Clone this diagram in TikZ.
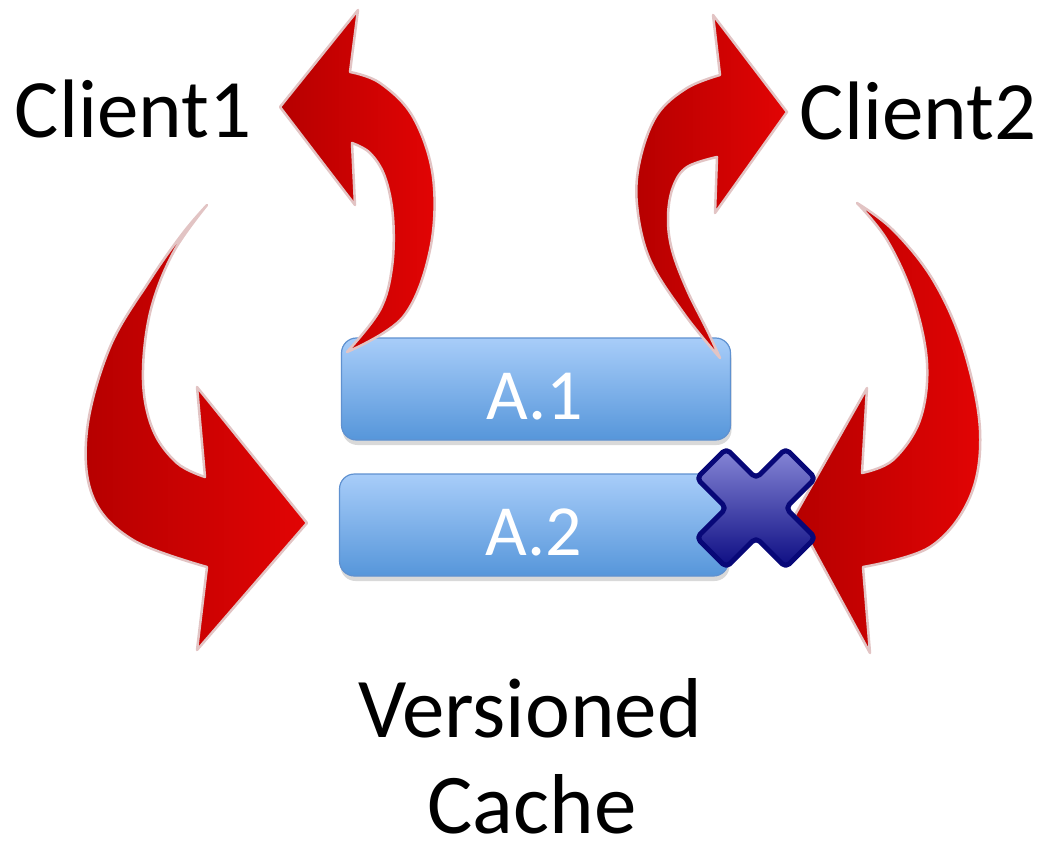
\documentclass[tikz,border=0pt]{standalone}
\usepackage{fontspec}
\setmainfont{Carlito}
\usetikzlibrary{shadows}
\definecolor{boxtop}{RGB}{168,205,249}
\definecolor{boxbot}{RGB}{86,150,218}
\definecolor{boxline}{RGB}{95,145,208}
\definecolor{reddark}{RGB}{182,0,0}
\definecolor{redlight}{RGB}{226,4,4}
\definecolor{rededge}{RGB}{226,196,196}
\definecolor{xnavy}{RGB}{8,8,120}
\definecolor{xlight}{RGB}{135,135,215}
\definecolor{xdark}{RGB}{12,12,130}
\tikzset{
  cachebox/.style={draw=boxline, line width=1.2pt, rounded corners=15pt,
    top color=boxtop, bottom color=boxbot, inner sep=0pt,
    minimum width=389pt, minimum height=102pt,
    drop shadow={shadow xshift=1pt, shadow yshift=-5pt, opacity=0.3}},
  redarrow/.style={draw=rededge, line width=2.5pt, line join=round,
    left color=reddark, right color=redlight},
  crossmark/.style={draw=xnavy, line width=5pt, rounded corners=5pt, line join=round,
    top color=xlight, bottom color=xdark},
  clienttext/.style={inner sep=0pt, anchor=base, font=\fontsize{83}{83}\selectfont},
  bigtext/.style={inner sep=0pt, anchor=base, font=\fontsize{85}{85}\selectfont},
  boxtext/.style={inner sep=0pt, anchor=base, text=white, font=\fontsize{72}{72}\selectfont}
}
\begin{document}
\begin{tikzpicture}[x=1pt,y=-1pt]
\useasboundingbox (0,0) rectangle (1041,842);
% cache boxes
\node[cachebox] (a1) at (536,389) {};
\node[cachebox] (a2) at (534,525) {};
\node[boxtext] (a1t) at (535,419) {A.1};
\node[boxtext] (a2t) at (534,555) {A.2};
% arrow 1: from A.1 up to Client1
\path[redarrow] plot[smooth,tension=0.6] coordinates {(350,72) (380,83) (413,117) (433,177) (430,250) (403,317) (347,352)}
  -- plot[smooth,tension=0.6] coordinates {(347,352) (380,310) (392,267) (393,217) (385,177) (370,153) (352,143)}
  -- (355,205) -- (280,107) -- (358,10) -- cycle;
% arrow 3: from A.1 up to Client2
\path[redarrow] plot[smooth,tension=0.6] coordinates {(720,75) (687,88) (657,115) (640,160) (637,205) (650,260) (685,315) (720,358)}
  -- plot[smooth,tension=0.6] coordinates {(720,358) (707,330) (687,290) (672,250) (668,217) (673,187) (687,167) (717,157)}
  -- (715,213) -- (787,112) -- (713,15) -- cycle;
% arrow 2: from Client1 down to A.2
\path[redarrow] plot[smooth,tension=0.6] coordinates {(207,205) (183,233) (150,280) (110,347) (87,430) (93,497) (133,540) (207,567)}
  -- (197,650) -- (307,523) -- (197,387) -- (205,477)
  -- plot[smooth,tension=0.6] coordinates {(205,477) (177,463) (153,430) (143,380) (150,313) (173,253) (207,205)} -- cycle;
% arrow 4: from Client2 down to A.2
\path[redarrow] plot[smooth,tension=0.6] coordinates {(857,203) (893,230) (933,280) (963,347) (980,430) (970,497) (930,547) (863,567)}
  -- (870,653) -- (795,515) -- (867,388) -- (862,473)
  -- plot[smooth,tension=0.6] coordinates {(862,473) (893,460) (920,420) (927,363) (913,297) (887,240) (857,203)} -- cycle;
% cross mark
\path[crossmark, shift={(756,508)}, rotate=45]
  (21,21) -- (63,21) -- (63,-21) -- (21,-21) -- (21,-63) -- (-21,-63) -- (-21,-21)
  -- (-63,-21) -- (-63,21) -- (-21,21) -- (-21,63) -- (21,63) -- cycle;
% labels
\node[clienttext] (c1) at (133,138) {Client1};
\node[clienttext] (c2) at (918,140) {Client2};
\node[bigtext] (vc1) at (530,737) {Versioned};
\node[bigtext] (vc2) at (532,833) {Cache};
\end{tikzpicture}
\end{document}
